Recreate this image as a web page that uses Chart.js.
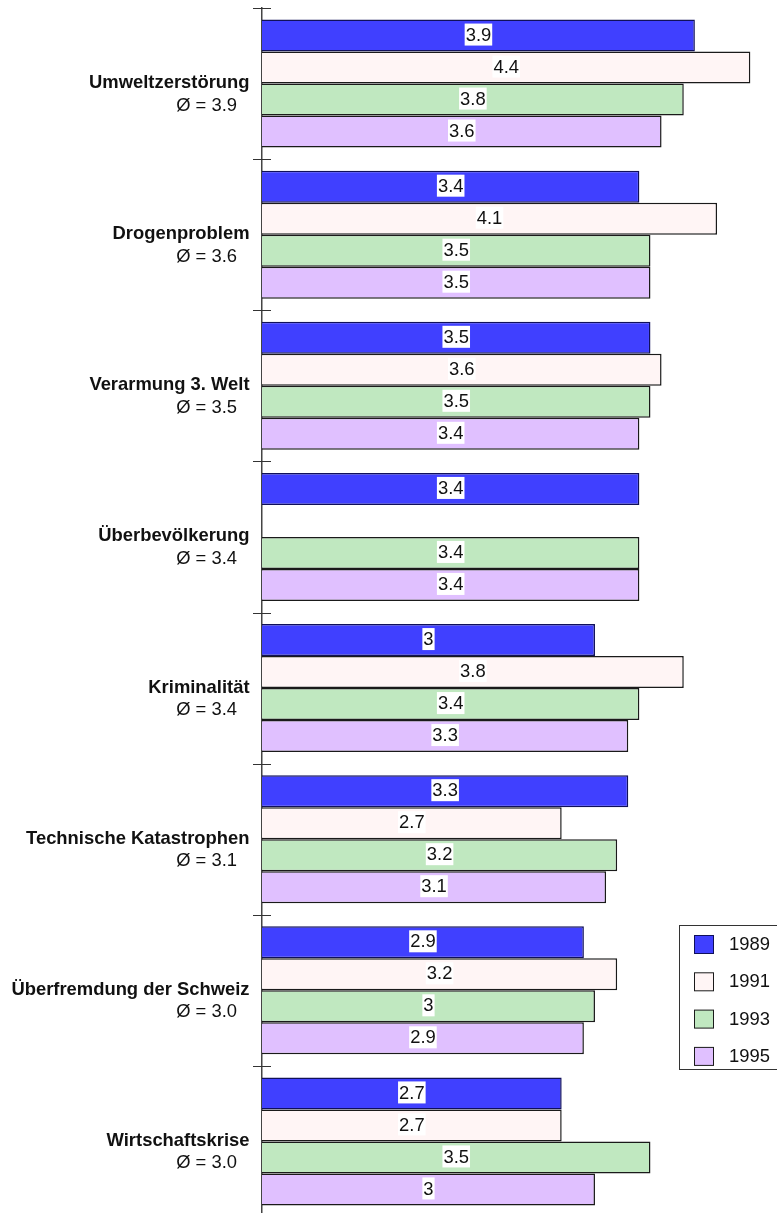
<!DOCTYPE html>
<html>
<head>
<meta charset="utf-8">
<script src="https://cdn.jsdelivr.net/npm/chart.js@4"></script>
<style>
  html, body { margin: 0; padding: 0; background: #fff; overflow: hidden; }
  #wrap { width: 777px; height: 1221px; }
</style>
</head>
<body>
<div id="wrap"><canvas id="chart" width="777" height="1221"></canvas></div>
<script>
'use strict';

const categories = [
  'Umweltzerstörung',
  'Drogenproblem',
  'Verarmung 3. Welt',
  'Überbevölkerung',
  'Kriminalität',
  'Technische Katastrophen',
  'Überfremdung der Schweiz',
  'Wirtschaftskrise',
];
const averages = ['3.9', '3.6', '3.5', '3.4', '3.4', '3.1', '3.0', '3.0'];

const years = ['1989', '1991', '1993', '1995'];
const values1989 = [3.9, 3.4, 3.5, 3.4, 3, 3.3, 2.9, 2.7];
const values1991 = [4.4, 4.1, 3.6, null, 3.8, 2.7, 3.2, 2.7];
const values1993 = [3.8, 3.5, 3.5, 3.4, 3.4, 3.2, 3, 3.5];
const values1995 = [3.6, 3.5, 3.4, 3.4, 3.3, 3.1, 2.9, 3];

const colors = ['#4040ff', '#fff5f5', '#c0e8c0', '#e0c0ff'];
const borders = ['#10105a', '#1a1a1a', '#1a1a1a', '#1a1a1a'];

const FONT = '"Liberation Sans", Arial, sans-serif';

const series = [values1989, values1991, values1993, values1995];

const decorations = {
  id: 'decorations',
  afterDatasetsDraw(chart) {
    const { ctx, chartArea } = chart;
    const yScale = chart.scales.y;
    const left = chartArea.left;

    ctx.save();
    // axis ticks crossing the axis at category boundaries
    ctx.strokeStyle = '#333';
    ctx.lineWidth = 1;
    for (let i = 0; i <= categories.length; i++) {
      const y = Math.round(yScale.getPixelForValue(i - 0.5)) + 0.5;
      ctx.beginPath();
      ctx.moveTo(left - 9, y);
      ctx.lineTo(left + 9, y);
      ctx.stroke();
    }

    // category labels
    ctx.fillStyle = '#111';
    ctx.textAlign = 'right';
    ctx.textBaseline = 'alphabetic';
    categories.forEach((name, i) => {
      const y = yScale.getPixelForValue(i);
      ctx.font = `bold 18.4px ${FONT}`;
      ctx.fillText(name, left - 12.5, y + 4.5);
      ctx.font = `18.4px ${FONT}`;
      ctx.fillText(`Ø = ${averages[i]}`, left - 25, y + 27);
    });

    // value labels with white boxes
    ctx.font = `18.4px ${FONT}`;
    ctx.textAlign = 'center';
    ctx.textBaseline = 'middle';
    chart.data.datasets.forEach((ds, di) => {
      const meta = chart.getDatasetMeta(di);
      meta.data.forEach((bar, idx) => {
        const v = ds.data[idx];
        if (v === null || v === undefined) return;
        const text = String(v);
        const x = (bar.base + bar.x) / 2;
        const y = bar.y - 1;
        const w = ctx.measureText(text).width + 2;
        ctx.fillStyle = '#fff';
        ctx.fillRect(x - w / 2, y - 11, w, 22);
        ctx.fillStyle = '#111';
        ctx.fillText(text, x, y + 1);
      });
    });

    // legend box
    const lx = 679.5, ly = 925.5;
    ctx.fillStyle = '#fff';
    ctx.fillRect(lx, ly, 110, 144);
    ctx.strokeStyle = '#333';
    ctx.strokeRect(lx, ly, 110, 144);
    ctx.textAlign = 'left';
    years.forEach((year, i) => {
      const sy = 935 + i * 37.3;
      ctx.fillStyle = colors[i];
      ctx.fillRect(694.5, sy + 0.5, 19, 18);
      ctx.strokeStyle = borders[i];
      ctx.strokeRect(694.5, sy + 0.5, 19, 18);
      ctx.fillStyle = '#111';
      ctx.fillText(year, 729, sy + 10);
    });
    ctx.restore();
  },
};

new Chart(document.getElementById('chart'), {
  type: 'bar',
  data: {
    labels: categories,
    datasets: years.map((year, i) => ({
      label: year,
      data: series[i],
      backgroundColor: colors[i],
      borderColor: borders[i],
      borderWidth: 1.5,
      barPercentage: 1,
      categoryPercentage: 0.847,
    })),
  },
  options: {
    indexAxis: 'y',
    responsive: false,
    animation: false,
    devicePixelRatio: 1,
    layout: { padding: { top: 8, bottom: 4, left: 0, right: 0 } },
    scales: {
      x: {
        display: false,
        min: 0,
        max: 4.64,
      },
      y: {
        ticks: { display: false },
        grid: { display: false },
        border: { display: true, color: '#444', width: 1.5 },
        afterFit: (scale) => { scale.width = 262; },
      },
    },
    plugins: {
      legend: { display: false },
      tooltip: { enabled: false },
    },
  },
  plugins: [decorations],
});
</script>
</body>
</html>
